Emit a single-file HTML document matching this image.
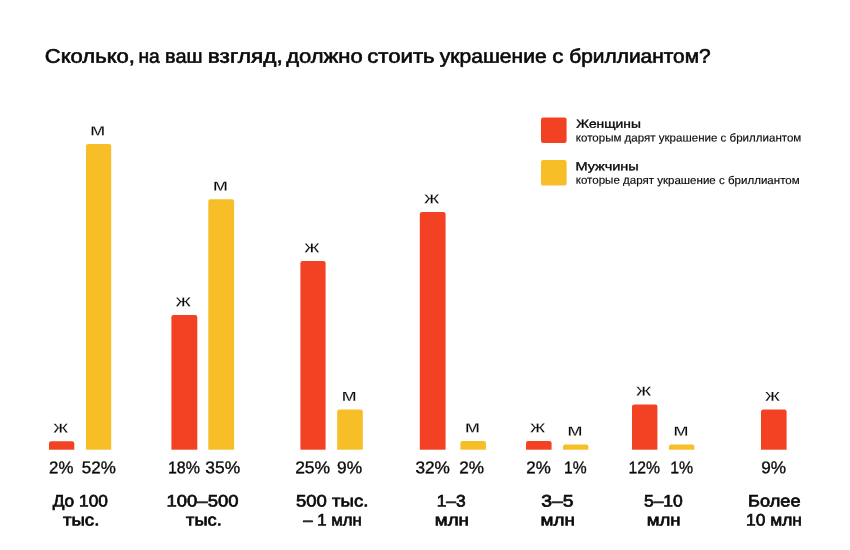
<!DOCTYPE html>
<html lang="ru"><head><meta charset="utf-8"><title>Сколько должно стоить украшение с бриллиантом</title>
<style>
html,body{margin:0;padding:0;background:#fff}
body{width:850px;height:550px;overflow:hidden}
svg{display:block}
text{font-family:"Liberation Sans",sans-serif;fill:#0a0a0a;text-anchor:middle;text-rendering:geometricPrecision}
.t{stroke:#0a0a0a;stroke-width:.62px}
.m{stroke:#0a0a0a;stroke-width:.7px}
.h{stroke:#0a0a0a;stroke-width:.35px}
.p{stroke:#0a0a0a;stroke-width:.35px}
.b{stroke:#fff;stroke-width:.14px}
.s{stroke:#0a0a0a;stroke-width:.15px}
</style></head><body>
<svg width="850" height="550" viewBox="0 0 850 550">
<rect width="850" height="550" fill="#fff"/>
<g id="title">
<text id="t0" transform="translate(89.85 62.80) matrix(1.1264 .0005 0 1 0 0)" font-size="19.6" class="t">Сколько,</text>
<text id="t1" transform="translate(149.05 62.80) matrix(0.9797 .0005 0 1 0 0)" font-size="19.6" class="t">на</text>
<text id="t2" transform="translate(183.80 62.80) matrix(1.0172 .0005 0 1 0 0)" font-size="19.6" class="t">ваш</text>
<text id="t3" transform="translate(245.25 62.80) matrix(1.1555 .0005 0 1 0 0)" font-size="19.6" class="t">взгляд,</text>
<text id="t4" transform="translate(324.45 62.80) matrix(1.1219 .0005 0 1 0 0)" font-size="19.6" class="t">должно</text>
<text id="t5" transform="translate(400.95 62.80) matrix(1.1306 .0005 0 1 0 0)" font-size="19.6" class="t">стоить</text>
<text id="t6" transform="translate(493.20 62.80) matrix(1.0746 .0005 0 1 0 0)" font-size="19.6" class="t">украшение</text>
<text id="t7" transform="translate(557.90 62.80) matrix(1.1377 .0005 0 1 0 0)" font-size="19.6" class="t">с</text>
<text id="t8" transform="translate(640.00 62.80) matrix(1.0668 .0005 0 1 0 0)" font-size="19.6" class="t">бриллиантом?</text>
</g>
<rect x="541" y="117.4" width="25.6" height="25.6" rx="2.2" fill="#F34223"/>
<rect x="541" y="160" width="25.6" height="25.6" rx="2.2" fill="#F7BE28"/>
<text id="lg1" transform="translate(608.60 127.70) matrix(1.1811 .0005 0 1 0 0)" font-size="11.7" class="h">Женщины</text>
<text id="ls1" transform="translate(688.55 141.50) matrix(1.0319 .0005 0 1 0 0)" font-size="11.2" class="s">которым дарят украшение с бриллиантом</text>
<text id="lg2" transform="translate(607.10 170.20) matrix(1.2423 .0005 0 1 0 0)" font-size="11.7" class="h">Мужчины</text>
<text id="ls2" transform="translate(687.70 183.90) matrix(1.0316 .0005 0 1 0 0)" font-size="11.2" class="s">которые дарят украшение с бриллиантом</text>
<rect x="49" y="441.2" width="25.3" height="11.5" rx="2.2" fill="#F34223"/>
<rect x="86" y="144" width="25.2" height="308.7" rx="2.2" fill="#F7BE28"/>
<rect x="171.4" y="315.1" width="25.9" height="137.6" rx="2.2" fill="#F34223"/>
<rect x="208.3" y="199.2" width="25.8" height="253.5" rx="2.2" fill="#F7BE28"/>
<rect x="300.4" y="261" width="25.2" height="191.7" rx="2.2" fill="#F34223"/>
<rect x="337.2" y="409.6" width="25.6" height="43.1" rx="2.2" fill="#F7BE28"/>
<rect x="419.8" y="212" width="25.8" height="240.7" rx="2.2" fill="#F34223"/>
<rect x="460.4" y="441" width="25.6" height="11.7" rx="2.2" fill="#F7BE28"/>
<rect x="526" y="441" width="25.6" height="11.7" rx="2.2" fill="#F34223"/>
<rect x="563" y="444.4" width="25.4" height="8.3" rx="2.2" fill="#F7BE28"/>
<rect x="632" y="404.4" width="25.4" height="48.3" rx="2.2" fill="#F34223"/>
<rect x="669" y="444.4" width="25.4" height="8.3" rx="2.2" fill="#F7BE28"/>
<rect x="761" y="409.6" width="25.6" height="43.1" rx="2.2" fill="#F34223"/>
<rect x="0" y="449.7" width="850" height="6" fill="#fff"/>
<text id="b0" transform="translate(60.60 432.40) matrix(1.2944 .0005 0 1 0 0)" font-size="16.7" class="b">ж</text>
<text id="p0" transform="translate(61.25 473.20) matrix(0.9874 .0005 0 1 0 0)" font-size="17.0" class="p">2%</text>
<text id="b1" transform="translate(97.75 135.20) matrix(1.3430 .0005 0 1 0 0)" font-size="16.7" class="b">м</text>
<text id="p1" transform="translate(98.80 473.20) matrix(1.0001 .0005 0 1 0 0)" font-size="17.0" class="p">52%</text>
<text id="b2" transform="translate(183.25 306.30) matrix(1.3414 .0005 0 1 0 0)" font-size="16.7" class="b">ж</text>
<text id="p2" transform="translate(183.90 473.20) matrix(0.9399 .0005 0 1 0 0)" font-size="17.0" class="p">18%</text>
<text id="b3" transform="translate(220.50 190.40) matrix(1.3348 .0005 0 1 0 0)" font-size="16.7" class="b">м</text>
<text id="p3" transform="translate(222.70 473.20) matrix(1.0210 .0005 0 1 0 0)" font-size="17.0" class="p">35%</text>
<text id="b4" transform="translate(311.85 252.20) matrix(1.3254 .0005 0 1 0 0)" font-size="16.7" class="b">ж</text>
<text id="p4" transform="translate(312.60 473.20) matrix(1.0269 .0005 0 1 0 0)" font-size="17.0" class="p">25%</text>
<text id="b5" transform="translate(349.20 400.80) matrix(1.3293 .0005 0 1 0 0)" font-size="16.7" class="b">м</text>
<text id="p5" transform="translate(349.60 473.20) matrix(1.0179 .0005 0 1 0 0)" font-size="17.0" class="p">9%</text>
<text id="b6" transform="translate(431.60 203.20) matrix(1.3348 .0005 0 1 0 0)" font-size="16.7" class="b">ж</text>
<text id="p6" transform="translate(432.70 473.20) matrix(1.0146 .0005 0 1 0 0)" font-size="17.0" class="p">32%</text>
<text id="b7" transform="translate(472.50 432.20) matrix(1.3348 .0005 0 1 0 0)" font-size="16.7" class="b">м</text>
<text id="p7" transform="translate(471.60 473.20) matrix(1.0079 .0005 0 1 0 0)" font-size="17.0" class="p">2%</text>
<text id="b8" transform="translate(537.50 432.20) matrix(1.3182 .0005 0 1 0 0)" font-size="16.7" class="b">ж</text>
<text id="p8" transform="translate(538.45 473.20) matrix(0.9953 .0005 0 1 0 0)" font-size="17.0" class="p">2%</text>
<text id="b9" transform="translate(574.95 435.60) matrix(1.3419 .0005 0 1 0 0)" font-size="16.7" class="b">м</text>
<text id="p9" transform="translate(575.25 473.20) matrix(0.9193 .0005 0 1 0 0)" font-size="17.0" class="p">1%</text>
<text id="b10" transform="translate(643.75 395.60) matrix(1.3295 .0005 0 1 0 0)" font-size="16.7" class="b">ж</text>
<text id="p10" transform="translate(644.25 473.20) matrix(0.9239 .0005 0 1 0 0)" font-size="17.0" class="p">12%</text>
<text id="b11" transform="translate(680.95 435.60) matrix(1.3419 .0005 0 1 0 0)" font-size="16.7" class="b">м</text>
<text id="p11" transform="translate(681.60 473.20) matrix(0.9331 .0005 0 1 0 0)" font-size="17.0" class="p">1%</text>
<text id="b12" transform="translate(772.60 400.80) matrix(1.2988 .0005 0 1 0 0)" font-size="16.7" class="b">ж</text>
<text id="p12" transform="translate(773.65 473.20) matrix(1.0102 .0005 0 1 0 0)" font-size="17.0" class="p">9%</text>
<text id="c0a" transform="translate(80.30 506.50) matrix(1.0428 .0005 0 1 0 0)" font-size="16.6" class="m">До 100</text>
<text id="c0b" transform="translate(81.10 525.50) matrix(1.1233 .0005 0 1 0 0)" font-size="16.6" class="m">тыс.</text>
<text id="c1a" transform="translate(202.50 506.50) matrix(1.1133 .0005 0 1 0 0)" font-size="16.6" class="m">100–500</text>
<text id="c1b" transform="translate(203.95 525.50) matrix(1.0996 .0005 0 1 0 0)" font-size="16.6" class="m">тыс.</text>
<text id="c2a" transform="translate(332.15 506.50) matrix(1.1184 .0005 0 1 0 0)" font-size="16.6" class="m">500 тыс.</text>
<text id="c2b" transform="translate(332.50 525.50) matrix(1.0082 .0005 0 1 0 0)" font-size="16.6" class="m">– 1 млн</text>
<text id="c3a" transform="translate(451.20 506.50) matrix(1.0489 .0005 0 1 0 0)" font-size="16.6" class="m">1–3</text>
<text id="c3b" transform="translate(451.90 525.50) matrix(1.1265 .0005 0 1 0 0)" font-size="16.6" class="m">млн</text>
<text id="c4a" transform="translate(557.40 506.50) matrix(1.1680 .0005 0 1 0 0)" font-size="16.6" class="m">3–5</text>
<text id="c4b" transform="translate(557.75 525.50) matrix(1.1349 .0005 0 1 0 0)" font-size="16.6" class="m">млн</text>
<text id="c5a" transform="translate(663.35 506.50) matrix(1.0525 .0005 0 1 0 0)" font-size="16.6" class="m">5–10</text>
<text id="c5b" transform="translate(663.60 525.50) matrix(1.1199 .0005 0 1 0 0)" font-size="16.6" class="m">млн</text>
<text id="c6a" transform="translate(774.30 506.50) matrix(1.0947 .0005 0 1 0 0)" font-size="16.6" class="m">Более</text>
<text id="c6b" transform="translate(773.95 525.50) matrix(1.0465 .0005 0 1 0 0)" font-size="16.6" class="m">10 млн</text>
</svg></body></html>
